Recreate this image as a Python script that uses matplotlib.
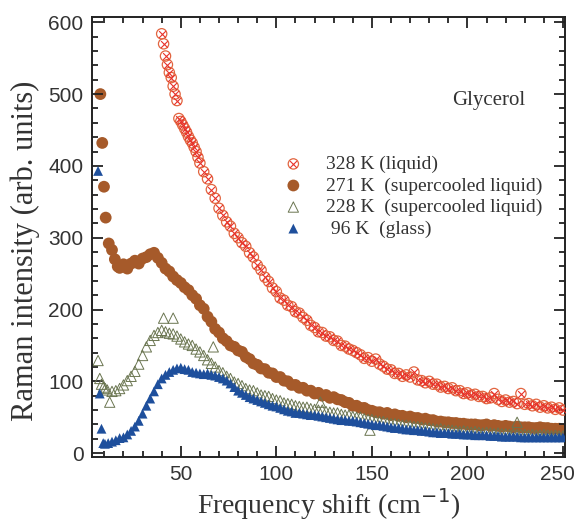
import numpy as np
import matplotlib
matplotlib.use('Agg')
import matplotlib.pyplot as plt
from matplotlib.ticker import MultipleLocator
from matplotlib.transforms import ScaledTranslation

# Raman spectra of glycerol at four temperatures
# 328 K: x = 40..60 step 1, then 62..250 step 2
x_328 = np.concatenate([np.arange(40, 61, 1), np.arange(62, 251, 2)])
y_328 = [584, 570, 553, 541, 530, 523, 511, 500, 491, 466, 462, 457, 452, 447, 441, 436, 432, 426, 420, 412, 404,
         392, 382, 367, 355, 341, 331, 322, 316, 306, 300,
         293, 288, 279, 273, 262, 255, 245, 239, 230, 225,
         216, 213, 206, 204, 197, 195, 189, 185, 178, 175,
         169, 168, 163, 162, 157, 156, 150, 149, 145, 143,
         140, 137, 132, 133, 128, 131, 124, 121, 117, 116,
         111, 111, 107, 109, 106, 113, 102, 101, 98, 100,
         96, 96, 92, 93, 90, 91, 87, 87, 83, 84,
         81, 82, 79, 79, 76, 77, 83, 75, 72, 74,
         71, 72, 69, 83, 68, 69, 66, 68, 64, 66,
         63, 64, 61, 63, 60]
# 271 K
x_271 = np.concatenate([[7.9, 8.9, 9.8, 10.7, 12.3, 14, 15.5, 17], np.arange(18, 251, 2)])
y_271 = [500, 432, 371, 328, 292, 283, 270, 260,
         258, 263, 257, 264, 268, 264, 271, 273, 277, 279,
         272, 265, 257, 253, 246, 241, 237, 231, 227, 220,
         215, 206, 201, 190, 183, 173, 168, 160, 156, 150,
         148, 143, 141, 134, 131, 125, 123, 118, 117, 112,
         111, 106, 106, 101, 100, 95, 95, 91, 91, 87,
         87, 83, 84, 80, 81, 77, 78, 75, 74, 71,
         70, 66, 66, 63, 63, 60, 59, 57, 57, 55,
         56, 53, 54, 52, 52, 50, 51, 49, 49, 47,
         48, 46, 46, 44, 44, 43, 43, 42, 42, 41,
         41, 40, 40, 40, 39, 39, 40, 38, 39, 38,
         37, 38, 37, 36, 37, 36, 36, 36, 35, 35,
         36, 35, 35, 34, 34, 34, 33]
# 228 K (first 14 points: low-frequency points and stray points)
x_228 = np.concatenate([[6.7, 7.6, 8.5, 9.5, 10.5, 11.5, 12.8, 14, 41, 46, 67, 123, 149, 226],
                        np.arange(16, 251, 2)])
y_228 = [129, 104, 96, 92, 90, 88, 71, 86, 188, 188, 148, 71, 32, 43,
         87, 90, 95, 101, 107, 114, 124, 136, 148, 157,
         164, 168, 171, 169, 167, 166, 163, 159, 155, 152,
         150, 145, 141, 136, 130, 125, 120, 115, 112, 107,
         104, 99, 97, 94, 90, 88, 87, 84, 81, 80,
         79, 76, 74, 73, 70, 69, 68, 66, 65, 64,
         64, 62, 61, 60, 60, 58, 57, 56, 56, 54,
         53, 53, 51, 50, 50, 48, 47, 47, 45, 44,
         44, 42, 41, 41, 40, 39, 39, 38, 37, 37,
         36, 35, 35, 34, 33, 34, 32, 32, 32, 31,
         30, 31, 30, 29, 30, 29, 28, 29, 28, 27,
         28, 27, 27, 26, 27, 26, 26, 26, 25, 26,
         25, 25, 26, 25, 24, 25, 24, 24]
# 96 K
x_96 = np.concatenate([[6.7, 7.6, 8.5, 9.4, 10.3], np.arange(12, 251, 2)])
y_96 = [393, 83, 34, 14, 13,
        14, 16, 18, 21, 22, 26, 31, 37, 45, 55,
        66, 76, 86, 96, 104, 109, 113, 116, 118, 119,
        117, 116, 113, 112, 111, 110, 111, 109, 108, 106,
        104, 101, 97, 92, 87, 84, 81, 78, 76, 74,
        72, 70, 68, 66, 65, 63, 61, 59, 58, 56,
        56, 55, 54, 53, 53, 52, 51, 50, 49, 48,
        47, 46, 46, 45, 45, 44, 43, 42, 41, 40,
        39, 39, 38, 37, 36, 35, 35, 34, 33, 33,
        32, 32, 31, 31, 30, 29, 29, 28, 28, 28,
        27, 27, 27, 26, 26, 26, 25, 25, 25, 25,
        24, 24, 24, 23, 23, 23, 23, 23, 22, 22,
        22, 22, 22, 22, 22, 22, 22, 22, 22, 22]

labels = ['328 K (liquid)', '271 K  (supercooled liquid)', '228 K  (supercooled liquid)', ' 96 K  (glass)']

serif = ['Liberation Serif', 'DejaVu Serif']
sans = ['Liberation Sans Narrow', 'Liberation Sans', 'DejaVu Sans']

fig = plt.figure(figsize=(5.77, 5.23), dpi=100)
ax = fig.add_axes([0.159, 0.126, 0.82, 0.841])

h1a = ax.scatter(x_328, y_328, s=55, facecolor='none', edgecolor='#e2643f', linewidth=0.9, zorder=4)
h1b = ax.scatter(x_328, y_328, s=24, marker='x', color='#e8322a', linewidth=0.8, zorder=4)
h2 = ax.scatter(x_271, y_271, s=72, marker='o', color='#a65a2a', edgecolor='none', zorder=1)
h3 = ax.scatter(x_228, y_228, s=55, marker='^', facecolor='none', edgecolor='#6a7550', linewidth=0.7, zorder=2)
h4 = ax.scatter(x_96, y_96, s=50, marker='^', color='#1e4f9c', edgecolor='none', zorder=3)

ax.set_xlim(3.4, 251)
ax.set_ylim(-5.5, 607)
ax.xaxis.set_major_locator(MultipleLocator(50))
ax.xaxis.set_minor_locator(MultipleLocator(10))
ax.yaxis.set_major_locator(MultipleLocator(100))
ax.yaxis.set_minor_locator(MultipleLocator(20))
ax.tick_params(which='both', direction='in', top=True, right=True, width=1.3, color='#222222')
ax.tick_params(which='major', length=8, pad=6)
ax.tick_params(which='minor', length=4)
for s in ax.spines.values():
    s.set_linewidth(1.4)
    s.set_color('#222222')
for t in ax.get_xticklabels() + ax.get_yticklabels():
    t.set_family(sans)
    t.set_fontsize(15)
    t.set_color('#333333')
# the 250 label sits on the right edge of the figure; pull it in a little
xt = list(ax.get_xticks())
lab250 = ax.get_xticklabels()[xt.index(250)]
lab250.set_transform(lab250.get_transform() + ScaledTranslation(-6 / 100, 0, fig.dpi_scale_trans))

ax.set_xlabel('Frequency shift (cm$^{-1}$)', family=serif, fontsize=20, color='#333333')
ax.set_ylabel('Raman intensity (arb. units)', family=serif, fontsize=22, color='#333333')
ax.xaxis.set_label_coords(0.5, -0.066)
ax.yaxis.set_label_coords(-0.11, 0.468)

ax.text(0.84, 0.81, 'Glycerol', transform=ax.transAxes, family=serif, fontsize=15,
        color='#333333', ha='center', va='center')

ax.legend([(h1a, h1b), h2, h3, h4], labels, loc='upper left', bbox_to_anchor=(0.385, 0.708),
          frameon=False, handlelength=1.0, handletextpad=1.2, labelspacing=0.2,
          borderpad=0, prop={'family': serif, 'size': 14}, labelcolor='#333333')

fig.savefig('out.png', dpi=100)
